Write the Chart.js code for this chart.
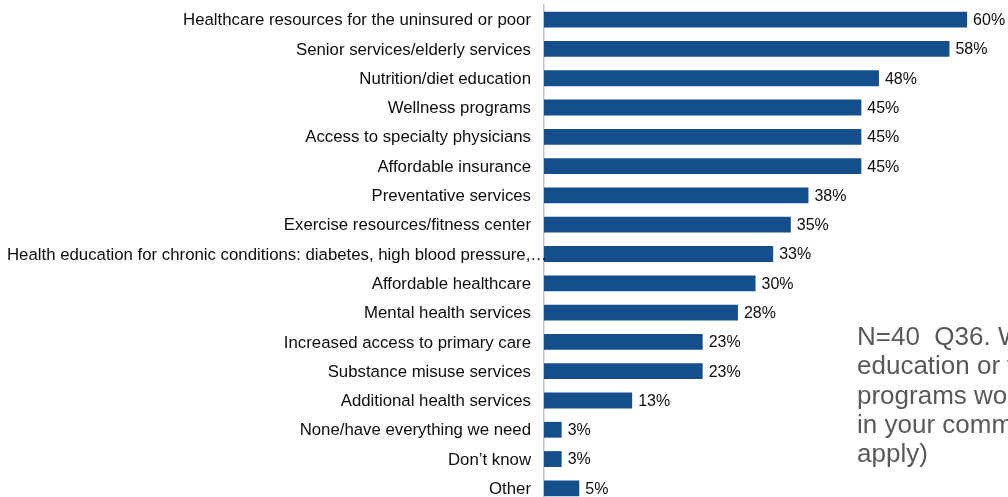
<!DOCTYPE html>
<html>
<head>
<meta charset="utf-8">
<script src="https://cdn.jsdelivr.net/npm/chart.js@4/dist/chart.umd.min.js"></script>
<style>
html,body{margin:0;padding:0;background:#fff;overflow:hidden;}
#wrap{position:relative;width:1008px;height:503px;}
</style>
</head>
<body>
<div id="wrap"><canvas id="c"></canvas></div>
<script>
const categories = [
  "Healthcare resources for the uninsured or poor",
  "Senior services/elderly services",
  "Nutrition/diet education",
  "Wellness programs",
  "Access to specialty physicians",
  "Affordable insurance",
  "Preventative services",
  "Exercise resources/fitness center",
  "Health education for chronic conditions: diabetes, high blood pressure,\u2026",
  "Affordable healthcare",
  "Mental health services",
  "Increased access to primary care",
  "Substance misuse services",
  "Additional health services",
  "None/have everything we need",
  "Don\u2019t know",
  "Other"
];
const values = [60, 57.5, 47.5, 45, 45, 45, 37.5, 35, 32.5, 30, 27.5, 22.5, 22.5, 12.5, 2.5, 2.5, 5];
const valueLabels = ["60%","58%","48%","45%","45%","45%","38%","35%","33%","30%","28%","23%","23%","13%","3%","3%","5%"];
const noteLines = [
  "N=40  Q36. What health",
  "education or wellness",
  "programs would you like to see",
  "in your community? (Select all that",
  "apply)"
];

const FONT = "Arial, 'Liberation Sans', sans-serif";

const labelPlugin = {
  id: 'labels',
  afterDraw(chart) {
    const ctx = chart.ctx;
    const y = chart.scales.y, x = chart.scales.x;
    ctx.save();
    ctx.textBaseline = 'middle';
    // category labels
    ctx.font = "16.8px " + FONT;
    ctx.fillStyle = '#0d0d0d';
    ctx.textAlign = 'right';
    categories.forEach((c, i) => {
      const py = y.getPixelForValue(i);
      const w = ctx.measureText(c).width;
      const right = Math.max(chart.chartArea.left - 13, 7 + w);
      ctx.fillText(c, right, py + 1);
    });
    // value labels
    ctx.font = "16px " + FONT;
    ctx.textAlign = 'left';
    values.forEach((v, i) => {
      const px = x.getPixelForValue(v);
      const py = y.getPixelForValue(i);
      ctx.fillText(valueLabels[i], px + 6, py + 1);
    });
    // note
    ctx.font = "26px " + FONT;
    ctx.fillStyle = '#595959';
    ctx.textBaseline = 'alphabetic';
    noteLines.forEach((t, i) => {
      ctx.fillText(t, 857, 345 + i * 29.3);
    });
    ctx.restore();
  }
};

new Chart(document.getElementById('c'), {
  type: 'bar',
  data: {
    labels: categories,
    datasets: [{
      data: values,
      backgroundColor: '#144e8c',
      borderWidth: 0,
      barPercentage: 0.54,
      categoryPercentage: 1.0
    }]
  },
  options: {
    indexAxis: 'y',
    responsive: true,
    maintainAspectRatio: false,
    animation: false,
    layout: { padding: { top: 5, bottom: 0, left: 0, right: 0 } },
    plugins: { legend: { display: false }, tooltip: { enabled: false } },
    scales: {
      x: {
        display: false,
        min: 0,
        max: 65.8
      },
      y: {
        display: true,
        grid: { display: false, drawTicks: false },
        border: { display: true, color: '#c3c3c3', width: 1.5 },
        ticks: { display: false },
        afterFit(scale) { scale.width = 544; }
      }
    }
  },
  plugins: [labelPlugin]
});
</script>
</body>
</html>
